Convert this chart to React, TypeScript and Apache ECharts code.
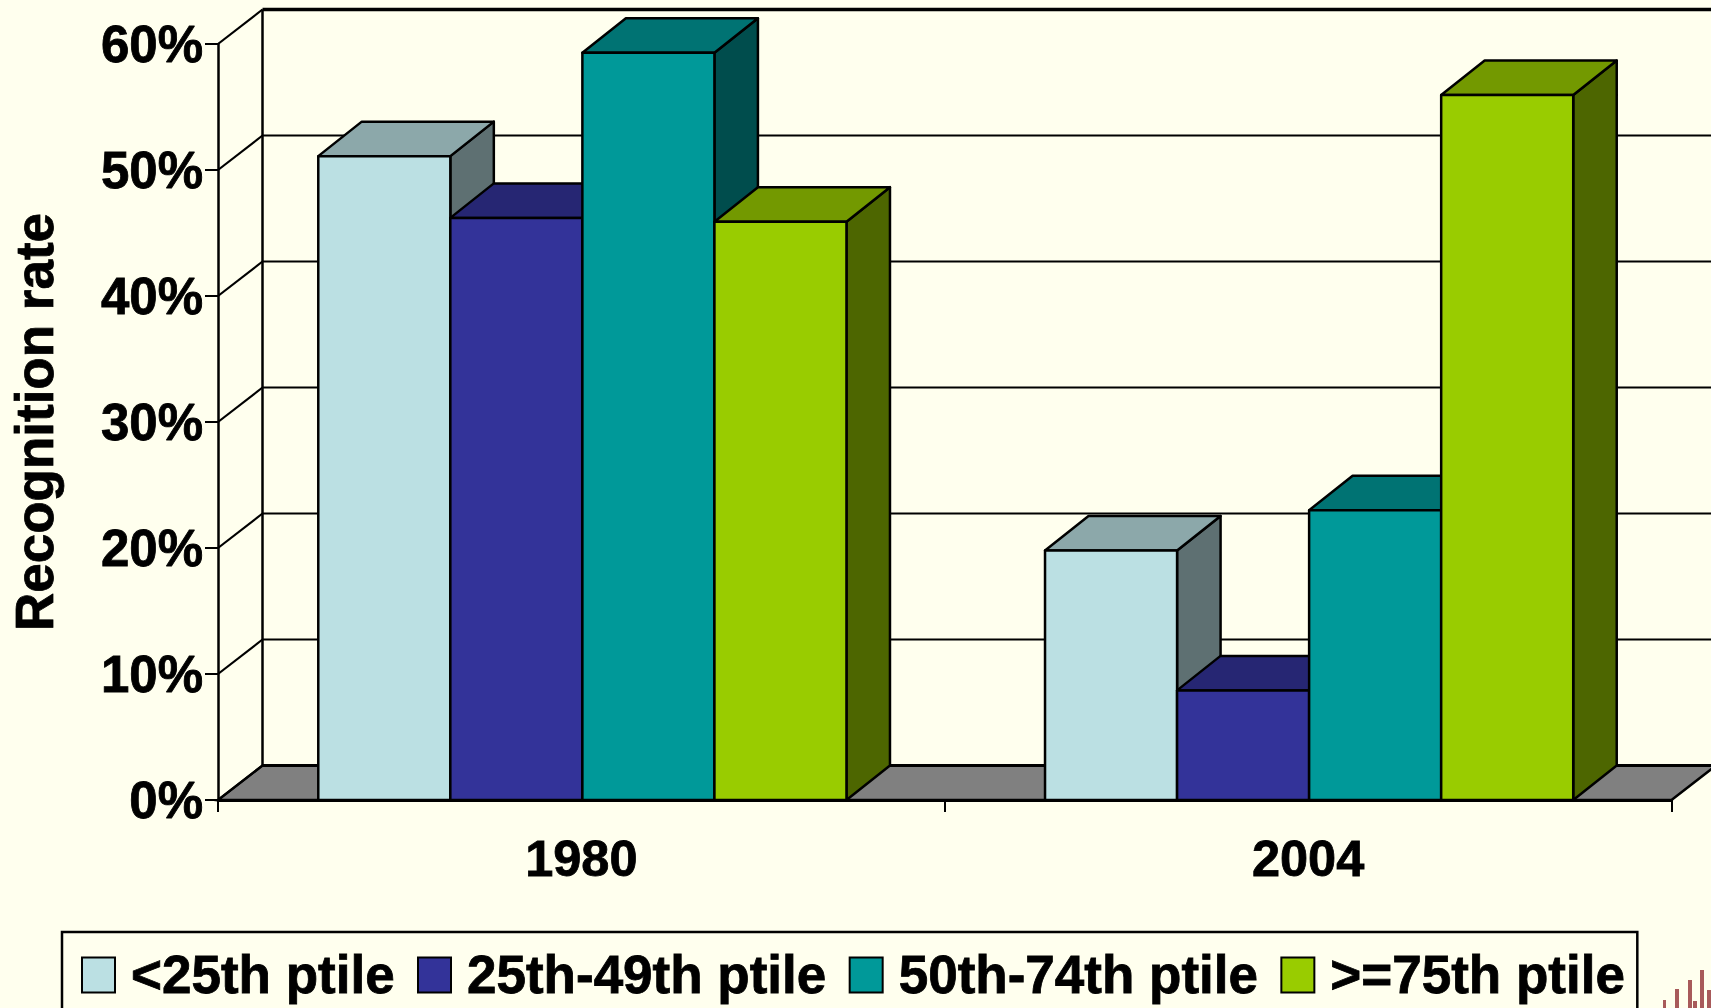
import React, { useEffect, useRef } from "react";
import * as echarts from "echarts";

const categories = ["1980", "2004"];
const seriesNames = ["<25th ptile", "25th-49th ptile", "50th-74th ptile", ">=75th ptile"];
const below25 = [51.1, 19.8];
const from25to49 = [46.2, 8.7];
const from50to74 = [59.3, 23.0];
const above75 = [45.9, 55.95];
const yTicks = [0, 10, 20, 30, 40, 50, 60];

const allValues = [below25, from25to49, from50to74, above75];
const frontColors = ["#BBE0E3", "#333399", "#009999", "#99CC00"];
const topColors = ["#8CA8AA", "#262673", "#007373", "#739900"];
const sideColors = ["#5E7072", "#1A1A4D", "#004D4D", "#4D6600"];
const FONT = "'Liberation Sans', Arial, sans-serif";
const FRAME_DX = 44.5;
const FRAME_DY = 34.5;
const BAR_DX = 43.5;
const BAR_DY = 34.5;
const BAR_FRACTION = 0.1817;
const boldText = { textBorderColor: "#000", textBorderWidth: 0.8 };

function App() {
  const ref = useRef<HTMLDivElement>(null);
  useEffect(() => {
    document.body.style.margin = "0";
    document.body.style.background = "#FFFFEE";
    const chart = echarts.init(ref.current!, null, { renderer: "svg" });

    const frameSeries = {
      type: "custom",
      name: "frame",
      silent: true,
      z: 1,
      data: yTicks.map((v) => [categories[0], v]),
      encode: { x: 0, y: 1 },
      renderItem: (params: any, api: any) => {
        const c = params.coordSys;
        const v = api.value(1);
        const y = api.coord([api.value(0), v])[1];
        const x0 = c.x;
        const x1 = c.x + c.width;
        const children: any[] = [];
        if (v === 0) {
          children.push({
            type: "polygon",
            shape: { points: [[x0, y], [x1, y], [x1 + FRAME_DX, y - FRAME_DY], [x0 + FRAME_DX, y - FRAME_DY]] },
            style: { fill: "#808080", stroke: "#000", lineWidth: 2.5 },
          });
        }
        if (v === yTicks[yTicks.length - 1]) {
          const y0 = api.coord([api.value(0), 0])[1];
          children.push({
            type: "line",
            shape: { x1: x0 + FRAME_DX, y1: y - FRAME_DY, x2: x0 + FRAME_DX, y2: y0 - FRAME_DY },
            style: { stroke: "#000", lineWidth: 2.5 },
          });
        }
        children.push({
          type: "line",
          shape: { x1: x0, y1: y, x2: x0 + FRAME_DX, y2: y - FRAME_DY },
          style: { stroke: "#000", lineWidth: 2.2 },
        });
        children.push({
          type: "line",
          shape: { x1: x0 + FRAME_DX, y1: y - FRAME_DY, x2: x1 + FRAME_DX, y2: y - FRAME_DY },
          style: {
            stroke: "#000",
            lineWidth: v === yTicks[yTicks.length - 1] ? 3.5 : v === 0 ? 3 : 2,
          },
        });
        return { type: "group", children };
      },
    };

    const barSeries = seriesNames.map((name, si) => ({
      type: "custom",
      name,
      silent: true,
      z: 2,
      itemStyle: { color: frontColors[si], borderColor: "#000", borderWidth: 2.5 },
      data: categories.map((cat, i) => [cat, allValues[si][i]]),
      encode: { x: 0, y: 1 },
      renderItem: (_params: any, api: any) => {
        const band = api.size([1, 0])[0];
        const w = band * BAR_FRACTION;
        const top = api.coord([api.value(0), api.value(1)]);
        const base = api.coord([api.value(0), 0]);
        const l = top[0] + (si - seriesNames.length / 2) * w + 1;
        const r = l + w;
        const t = top[1];
        const b = base[1];
        const stroke = { stroke: "#000", lineWidth: 2.5, lineJoin: "round" };
        return {
          type: "group",
          children: [
            {
              type: "polygon",
              shape: { points: [[r, t], [r + BAR_DX, t - BAR_DY], [r + BAR_DX, b - BAR_DY], [r, b]] },
              style: { fill: sideColors[si], ...stroke },
            },
            {
              type: "polygon",
              shape: { points: [[l, t], [l + BAR_DX, t - BAR_DY], [r + BAR_DX, t - BAR_DY], [r, t]] },
              style: { fill: topColors[si], ...stroke },
            },
            {
              type: "rect",
              shape: { x: l, y: t, width: w, height: b - t },
              style: { fill: frontColors[si], ...stroke },
            },
          ],
        };
      },
    }));

    const logoBars = [
      [1663, 1000, 3, 8],
      [1675, 989, 4, 19],
      [1688, 980, 4, 28],
      [1693, 1001, 4, 7],
      [1700, 970, 4, 38],
      [1707, 990, 4, 18],
    ];

    chart.setOption({
      animation: false,
      backgroundColor: "#FFFFEE",
      grid: { left: 218, right: 39.5, top: 44, bottom: 208, containLabel: false, outerBoundsMode: "none" },
      legend: {
        data: seriesNames,
        left: 62,
        top: 932,
        orient: "horizontal",
        width: 1620,
        padding: [16, 12, 60, 19],
        backgroundColor: "#FFFFEE",
        borderColor: "#000",
        borderWidth: 2.5,
        itemGap: 22,
        itemWidth: 33,
        itemHeight: 35,
        icon: "rect",
        selectedMode: false,
        textStyle: {
          fontFamily: FONT,
          fontWeight: "bold",
          fontSize: 53,
          color: "#000",
          padding: [0, 0, 0, 11],
          ...boldText,
        },
      },
      xAxis: {
        type: "category",
        data: categories,
        axisLine: { show: true, lineStyle: { color: "#000", width: 3 } },
        axisTick: { show: true, length: 12, alignWithLabel: false, lineStyle: { color: "#000", width: 2 } },
        axisLabel: {
          margin: 33,
          fontFamily: FONT,
          fontWeight: "bold",
          fontSize: 50.5,
          color: "#000",
          ...boldText,
        },
      },
      yAxis: {
        type: "value",
        min: 0,
        max: 60,
        interval: 10,
        name: "Recognition rate",
        nameLocation: "middle",
        nameGap: 157,
        nameRotate: 90,
        nameTextStyle: { fontFamily: FONT, fontWeight: "bold", fontSize: 53, color: "#000", ...boldText },
        splitLine: { show: false },
        axisLine: { show: true, lineStyle: { color: "#000", width: 2.5 } },
        axisTick: { show: true, length: 13, lineStyle: { color: "#000", width: 2 } },
        axisLabel: {
          margin: 15,
          formatter: "{value}%",
          fontFamily: FONT,
          fontWeight: "bold",
          fontSize: 51,
          color: "#000",
          ...boldText,
        },
      },
      graphic: logoBars.map(([x, y, width, height]) => ({
        type: "rect",
        shape: { x, y, width, height },
        style: { fill: "#A85A5A" },
        silent: true,
      })),
      series: [frameSeries, ...barSeries],
    });
    return () => chart.dispose();
  }, []);
  return (
    <div
      ref={ref}
      style={{ position: "fixed", left: 0, top: 0, width: 1711, height: 1008, overflow: "hidden" }}
    />
  );
}

export default App;
